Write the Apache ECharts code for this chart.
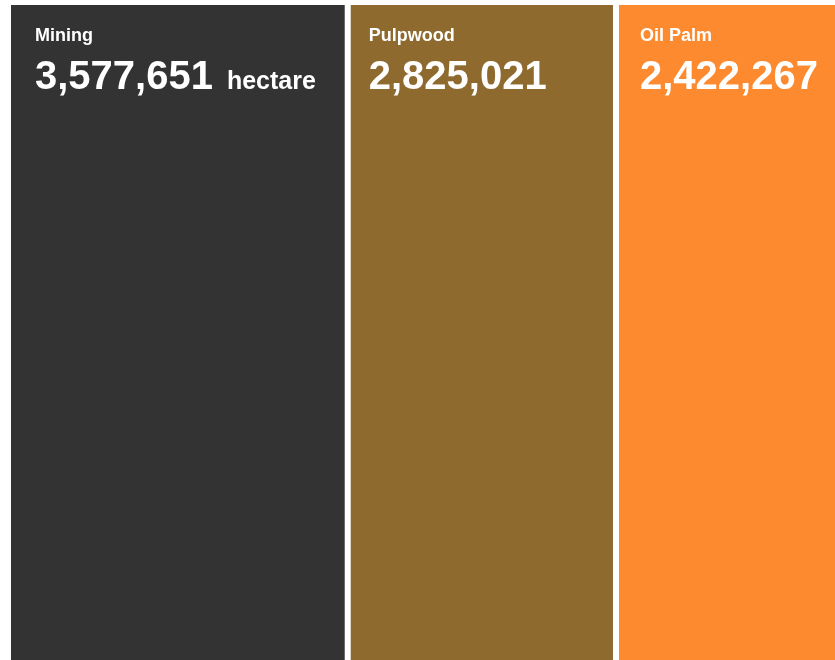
<!DOCTYPE html>
<html>
<head>
<meta charset="utf-8">
<script src="https://cdn.jsdelivr.net/npm/echarts@6/dist/echarts.min.js"></script>
<style>
html,body{margin:0;padding:0;background:#fff;overflow:hidden;}
#chart{width:860px;height:680px;}
</style>
</head>
<body>
<div id="chart"></div>
<script>
const categories = ['Mining', 'Pulpwood', 'Oil Palm'];
const values = [3577651, 2825021, 2422267];
const unitLabels = ['hectare', '', ''];
const colors = ['#333333', '#8e6a2e', '#fd8a2e'];
const labelOffsets = [27, 21, 24];

const total = values.reduce((a, b) => a + b, 0);
const fmt = v => v.toLocaleString('en-US');
const FONT = '"Liberation Sans", Arial, sans-serif';

const series = categories.map((name, i) => ({
  name: name,
  type: 'bar',
  stack: 'all',
  barWidth: '100%',
  data: [values[i]],
  itemStyle: { color: colors[i], borderColor: '#ffffff', borderWidth: 3 },
  label: {
    show: true,
    position: [labelOffsets[i], 22],
    align: 'left',
    verticalAlign: 'top',
    formatter: () => '{n|' + name + '}\n{v|' + fmt(values[i]) + '}' + (unitLabels[i] ? '{u|' + unitLabels[i] + '}' : ''),
    rich: {
      n: { fontFamily: FONT, fontWeight: 'bold', fontSize: 18, lineHeight: 24, color: '#ffffff' },
      v: { fontFamily: FONT, fontWeight: 'bold', fontSize: 40, lineHeight: 50, color: '#ffffff', verticalAlign: 'bottom' },
      u: { fontFamily: FONT, fontWeight: 'bold', fontSize: 25, lineHeight: 50, color: '#ffffff', verticalAlign: 'bottom', padding: [0, 0, 3, 14] }
    }
  },
  emphasis: { disabled: true }
}));

const chart = echarts.init(document.getElementById('chart'), null, { renderer: 'canvas' });
chart.setOption({
  animation: false,
  backgroundColor: '#ffffff',
  grid: { left: 8, top: 2, width: 838, height: 690, containLabel: false },
  xAxis: { type: 'value', min: 0, max: total, show: false },
  yAxis: { type: 'category', data: ['area'], show: false },
  tooltip: { show: false },
  series: series
});
</script>
</body>
</html>
